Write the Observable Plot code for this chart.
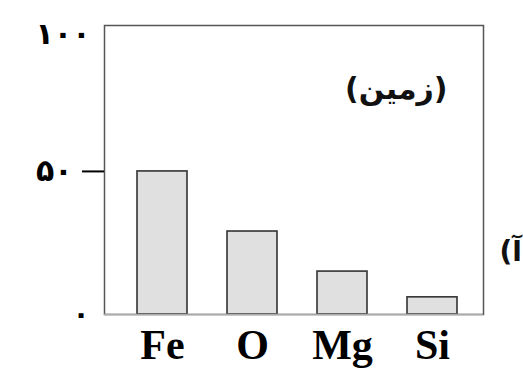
<!DOCTYPE html>
<html>
<head>
<meta charset="utf-8">
<script src="https://cdn.jsdelivr.net/npm/d3@7"></script>
<script src="https://cdn.jsdelivr.net/npm/@observablehq/plot@0.6"></script>
<style>
  html, body { margin: 0; padding: 0; background: #fff; }
</style>
</head>
<body>
<div id="chart"></div>
<script>
const elements = ["Fe", "O", "Mg", "Si"];
const percents = [50, 29, 15, 6];
const yTickValues = [0, 50, 100];
const yTickLabels = ["۰", "۵۰", "۱۰۰"];
const planetLabel = "(زمین)";
const panelLabel = "(آ)";

const data = elements.map((el, i) => ({ el, v: percents[i] }));
const fmt = d => yTickLabels[yTickValues.indexOf(d)];
const faFont = "DejaVu Sans";

const chart = Plot.plot({
  width: 523,
  height: 371,
  marginLeft: 104,
  marginRight: 40,
  marginTop: 25,
  marginBottom: 57,
  style: { background: "#fff", overflow: "visible" },
  x: { domain: elements, paddingInner: 0.45, paddingOuter: 0.32, align: 0.55 },
  y: { domain: [0, 101] },
  marks: [
    Plot.barY(data, { x: "el", y: "v", fill: "#e0e0e0", stroke: "#333", strokeWidth: 1.6 }),
    Plot.frame({ stroke: "#555", strokeWidth: 1.5 }),
    Plot.ruleY([0], { stroke: "#aaa", strokeWidth: 1.5 }),
    Plot.axisX({ tickSize: 0, tickPadding: 15, fontSize: 42, fontFamily: "Liberation Serif", fontWeight: "bold", label: null }),
    Plot.axisY({ ticks: [0], tickSize: 0, tickPadding: 15, tickFormat: fmt, fontSize: 28, fontFamily: faFont, fontWeight: "bold", label: null }),
    Plot.axisY({ ticks: [100], tickSize: 0, tickPadding: 14, dy: 6, tickFormat: fmt, fontSize: 30, fontFamily: faFont, fontWeight: "bold", label: null }),
    Plot.axisY({ ticks: [50], tickSize: 22, tickPadding: 10, strokeWidth: 2, tickFormat: fmt, fontSize: 30, fontFamily: faFont, fontWeight: "bold", label: null }),
    Plot.text([planetLabel], { frameAnchor: "top-right", textAnchor: "end", dx: -36, dy: 64, lineAnchor: "middle", fontSize: 30, fontFamily: faFont, fontWeight: "bold", fill: "#111" }),
    Plot.text([panelLabel], { frameAnchor: "right", textAnchor: "start", dx: 16, dy: 82, lineAnchor: "middle", fontSize: 28, fontFamily: faFont, fontWeight: "bold", fill: "#111" })
  ]
});
document.getElementById("chart").appendChild(chart);
</script>
</body>
</html>
